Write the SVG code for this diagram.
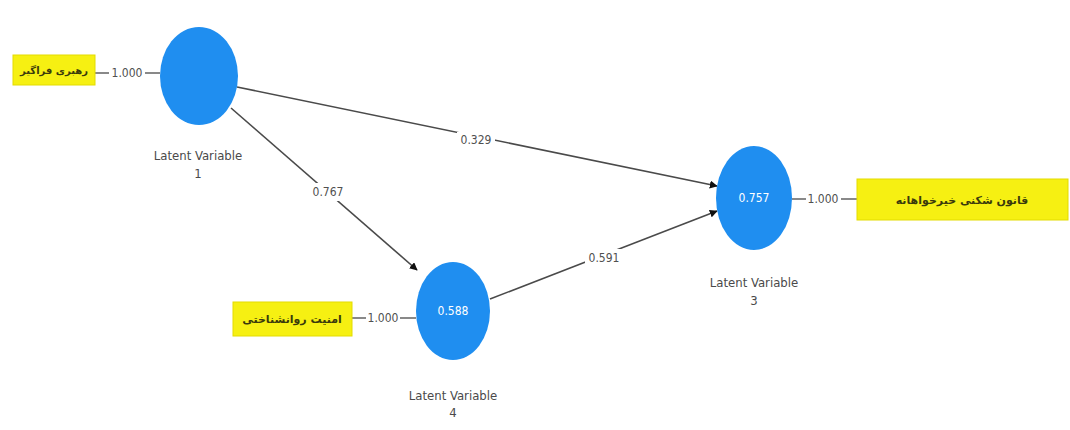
<svg xmlns="http://www.w3.org/2000/svg" width="1070" height="430" viewBox="0 0 1070 430">
  <style>
    .lv { fill: #1f8ef0; }
    .val { font-family: "DejaVu Sans Condensed", "Liberation Sans Narrow", "Liberation Sans", sans-serif; font-size: 12px; fill: #ffffff; text-anchor: middle; }
    .cap { font-family: "DejaVu Sans Condensed", "Liberation Sans Narrow", "Liberation Sans", sans-serif; font-size: 13px; fill: #4a4a4a; text-anchor: middle; }
    .ind { fill: #f6f012; stroke: #e3dc00; stroke-width: 1; }
    .fa { font-family: "DejaVu Sans", "Noto Sans", sans-serif; font-size: 11px; font-weight: bold; fill: #3a3a0c; text-anchor: middle; direction: rtl; }
    .edge { stroke: #4a4a4a; stroke-width: 1.6; fill: none; }
    .load { stroke: #4a4a4a; stroke-width: 1.3; }
    .num { font-family: "DejaVu Sans Condensed", "Liberation Sans Narrow", "Liberation Sans", sans-serif; font-size: 12px; fill: #505050; text-anchor: middle; }
    .bg { fill: #ffffff; }
  </style>
  <defs>
    <marker id="arrow" viewBox="0 0 10 10" refX="9" refY="5" markerWidth="8" markerHeight="8" orient="auto" markerUnits="userSpaceOnUse">
      <path d="M0,0 L10,5 L0,10 z" fill="#111111"/>
    </marker>
  </defs>
  <rect width="1070" height="430" fill="#ffffff"/>

  <!-- structural paths -->
  <g id="connectors">
    <line class="edge" x1="237" y1="87" x2="717" y2="186" marker-end="url(#arrow)"/>
    <line class="edge" x1="231" y1="108" x2="417" y2="270" marker-end="url(#arrow)"/>
    <line class="edge" x1="490" y1="299" x2="717" y2="211" marker-end="url(#arrow)"/>
    <rect class="bg" x="457" y="132" width="38" height="16"/>
    <text class="num" x="476" y="144">0.329</text>
    <rect class="bg" x="309" y="183" width="38" height="18"/>
    <text class="num" x="328" y="196">0.767</text>
    <rect class="bg" x="585" y="249" width="38" height="16"/>
    <text class="num" x="604" y="262">0.591</text>

    <!-- outer loadings -->
    <line class="load" x1="95" y1="73" x2="109" y2="73"/>
    <text class="num" x="127" y="77">1.000</text>
    <line class="load" x1="145" y1="73" x2="160" y2="73"/>

    <line class="load" x1="352" y1="318" x2="366" y2="318"/>
    <text class="num" x="383" y="322">1.000</text>
    <line class="load" x1="400" y1="318" x2="416" y2="318"/>

    <line class="load" x1="792" y1="199" x2="806" y2="199"/>
    <text class="num" x="823" y="203">1.000</text>
    <line class="load" x1="841" y1="199" x2="857" y2="199"/>
  </g>

  <g id="lv1">
    <ellipse class="lv" cx="199" cy="76" rx="39" ry="49"/>
    <text class="cap" x="198" y="160">Latent Variable</text>
    <text class="cap" x="198" y="178">1</text>
  </g>
  <g id="lv3">
    <ellipse class="lv" cx="754" cy="198" rx="38" ry="52"/>
    <text class="val" x="754" y="202">0.757</text>
    <text class="cap" x="754" y="287">Latent Variable</text>
    <text class="cap" x="754" y="305">3</text>
  </g>
  <g id="lv4">
    <ellipse class="lv" cx="453" cy="311" rx="37" ry="49"/>
    <text class="val" x="453" y="315">0.588</text>
    <text class="cap" x="453" y="400">Latent Variable</text>
    <text class="cap" x="453" y="417">4</text>
  </g>

  <g id="ind1">
    <rect class="ind" x="13" y="55" width="82" height="30"/>
    <text class="fa" x="54" y="74" style="font-size:10px">رهبری فراگیر</text>
  </g>
  <g id="ind4">
    <rect class="ind" x="233" y="302" width="119" height="34"/>
    <text class="fa" x="292" y="323">امنیت روانشناختی</text>
  </g>
  <g id="ind3">
    <rect class="ind" x="857" y="179" width="211" height="41"/>
    <text class="fa" x="962" y="204">قانون شکنی خیرخواهانه</text>
  </g>
</svg>
